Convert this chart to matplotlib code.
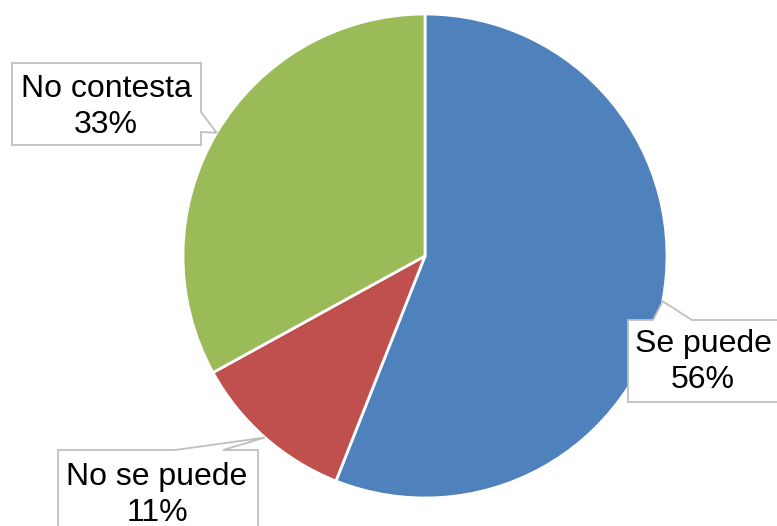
import numpy as np
import matplotlib.pyplot as plt
from matplotlib.patches import Polygon

plt.rcParams['font.family'] = ['Liberation Sans', 'DejaVu Sans']

# survey answers
labels = ['Se puede', 'No se puede', 'No contesta']
values = [56, 11, 33]
colors = ['#4F81BD', '#C0504D', '#9BBB59']

# callout boxes in pixels (left, top, right, bottom), y counted from the top,
# the side the pointer leaves from and the two base points on that side
boxes = [(628, 320, 790, 402), (58, 450, 258, 540), (12, 63, 201, 145)]
pointer_side = ['top', 'top', 'right']
pointer_base = [(653, 692), (175, 223), (112, 132)]
text_pos = [(703, 362), (157, 495), (106, 107)]

W, H = 777, 526
fig = plt.figure(figsize=(W / 100, H / 100), dpi=100)
ax = fig.add_axes([0, 0, 1, 1])

cx, cy, r = 425, 256, 242
ax.pie(values, colors=colors, startangle=90, counterclock=False,
       center=(cx, H - cy), radius=r, frame=True,
       wedgeprops=dict(edgecolor='white', linewidth=2))
ax.set_xlim(0, W)
ax.set_ylim(0, H)
ax.set_aspect('equal')
ax.axis('off')


def flip(pts):
    return [(x, H - y) for x, y in pts]


total = sum(values)
start = 0
for lab, v, (x0, y0, x1, y1), side, (b0, b1), (tx, ty) in zip(
        labels, values, boxes, pointer_side, pointer_base, text_pos):
    mid = (start + v / 2) / total * 2 * np.pi
    start += v
    tip = (cx + r * np.sin(mid), cy - r * np.cos(mid))
    if side == 'top':
        pts = [(x0, y0), (b0, y0), tip, (b1, y0), (x1, y0), (x1, y1), (x0, y1)]
    else:
        pts = [(x0, y0), (x1, y0), (x1, b0), tip, (x1, b1), (x1, y1), (x0, y1)]
    ax.add_patch(Polygon(flip(pts), closed=True, fc='white', ec='#BFBFBF',
                         lw=1.3, zorder=3, clip_on=False))
    ax.text(tx, H - ty, f'{lab}\n{v / total:.0%}', ha='center', va='center',
            fontsize=23, linespacing=1.22, zorder=4)

fig.savefig('out.png', dpi=100)
